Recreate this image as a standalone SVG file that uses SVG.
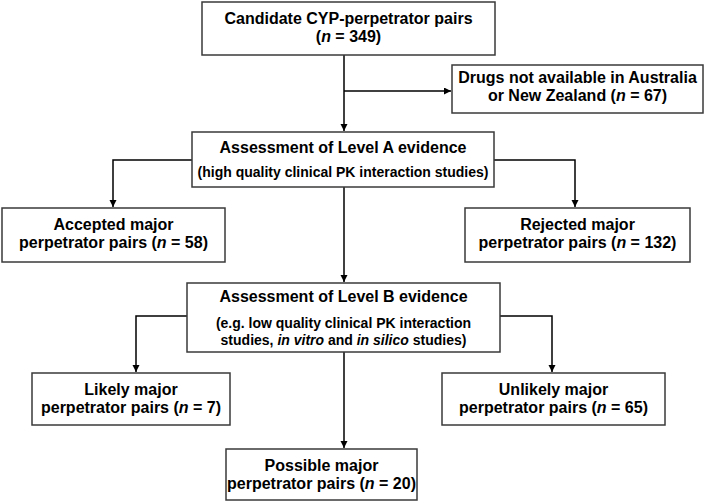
<svg xmlns="http://www.w3.org/2000/svg" width="708" height="503" viewBox="0 0 708 503">
<defs>
<marker id="arr" markerUnits="userSpaceOnUse" markerWidth="8" markerHeight="8" refX="7" refY="3.5" orient="auto">
<path d="M0,0 L7,3.5 L0,7 z" fill="#000"/>
</marker>
<style>
rect.box{fill:#fff;stroke:#3a3a3a;stroke-width:1.5}
text{font-family:"Liberation Sans",Arial,sans-serif;font-weight:bold;font-size:16px;fill:#000;text-anchor:middle}
text.sm{font-size:14px}
.it{font-style:italic}
.conn path{fill:none;stroke:#000;stroke-width:1.5}
</style>
</defs>
<rect width="708" height="503" fill="#fff"/>
<g class="conn">
<path d="M344,55 V131" marker-end="url(#arr)"/>
<path d="M344,91 H451" marker-end="url(#arr)"/>
<path d="M192,160 H113 V207" marker-end="url(#arr)"/>
<path d="M494,160 H575 V207" marker-end="url(#arr)"/>
<path d="M344,187 V282" marker-end="url(#arr)"/>
<path d="M187,316 H136 V372" marker-end="url(#arr)"/>
<path d="M500,316 H552 V372" marker-end="url(#arr)"/>
<path d="M344,352 V448" marker-end="url(#arr)"/>
</g>
<g id="candidate">
<rect class="box" x="202" y="2" width="293" height="53"/>
<text x="348.5" y="24">Candidate CYP-perpetrator pairs</text>
<text x="348.5" y="42">(<tspan class="it">n</tspan> = 349)</text>
</g>
<g id="drugs">
<rect class="box" x="452" y="65" width="251" height="48"/>
<text x="577.5" y="83">Drugs not available in Australia</text>
<text x="577.5" y="101">or New Zealand (<tspan class="it">n</tspan> = 67)</text>
</g>
<g id="levelA">
<rect class="box" x="192" y="132" width="302" height="55"/>
<text x="343" y="153">Assessment of Level A evidence</text>
<text class="sm" x="343" y="177">(high quality clinical PK interaction studies)</text>
</g>
<g id="accepted">
<rect class="box" x="2" y="208" width="223" height="54"/>
<text x="113.5" y="230">Accepted major</text>
<text x="113.5" y="248">perpetrator pairs (<tspan class="it">n</tspan> = 58)</text>
</g>
<g id="rejected">
<rect class="box" x="465" y="208" width="225" height="54"/>
<text x="577.5" y="230">Rejected major</text>
<text x="577.5" y="248">perpetrator pairs (<tspan class="it">n</tspan> = 132)</text>
</g>
<g id="levelB">
<rect class="box" x="187" y="283" width="313" height="69"/>
<text x="343.5" y="302">Assessment of Level B evidence</text>
<text class="sm" x="343.5" y="328">(e.g. low quality clinical PK interaction</text>
<text class="sm" x="343.5" y="345">studies, <tspan class="it">in vitro</tspan> and <tspan class="it">in silico</tspan> studies)</text>
</g>
<g id="likely">
<rect class="box" x="32" y="373" width="198" height="52"/>
<text x="131" y="395">Likely major</text>
<text x="131" y="413">perpetrator pairs (<tspan class="it">n</tspan> = 7)</text>
</g>
<g id="unlikely">
<rect class="box" x="442" y="373" width="223" height="52"/>
<text x="553.5" y="395">Unlikely major</text>
<text x="553.5" y="413">perpetrator pairs (<tspan class="it">n</tspan> = 65)</text>
</g>
<g id="possible">
<rect class="box" x="226" y="449" width="191" height="51"/>
<text x="321.5" y="471">Possible major</text>
<text x="321.5" y="489">perpetrator pairs (<tspan class="it">n</tspan> = 20)</text>
</g>
</svg>
